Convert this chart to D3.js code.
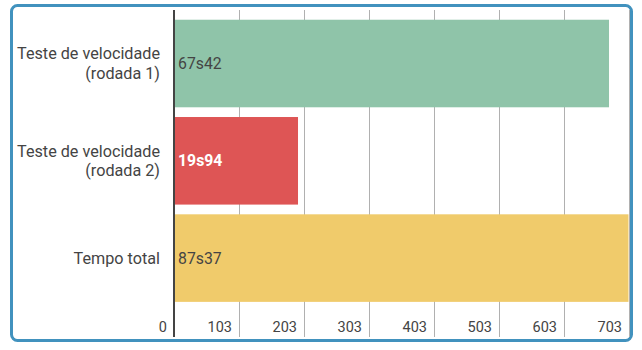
<!DOCTYPE html>
<html>
<head>
<meta charset="utf-8">
<script src="https://cdn.jsdelivr.net/npm/d3@7"></script>
<style>
  body { margin: 0; background: #fff; }
  svg { display: block; font-family: Roboto, "Noto Sans", sans-serif; }
</style>
</head>
<body>
<svg></svg>
<script>
const svgWidth = 642
const svgHeight = 350

// data
const categories = [
  ["Teste de velocidade", "(rodada 1)"],
  ["Teste de velocidade", "(rodada 2)"],
  ["Tempo total"]
]
const barValues = [670, 191, 700]
const barLabels = ["67s42", "19s94", "87s37"]
const barColors = ["#8fc4a9", "#de5555", "#f0cb6b"]
const tickValues = [0, 100, 200, 300, 400, 500, 600, 700]
const tickLabels = ["0", "103", "203", "303", "403", "503", "603", "703"]

const plot = { left: 174, right: 628.5, top: 10, bottom: 337 }

const svg = d3.select("svg")
  .attr("width", svgWidth)
  .attr("height", svgHeight)

// frame
svg.append("rect")
  .attr("x", 11.5)
  .attr("y", 5.5)
  .attr("width", 620)
  .attr("height", 335)
  .attr("rx", 6)
  .attr("fill", "none")
  .attr("stroke", "#4192be")
  .attr("stroke-width", 3)

const xScale = d3.scaleLinear()
  .domain([0, 700])
  .range([plot.left, plot.right])
  .clamp(true)

const yScale = d3.scaleBand()
  .domain(d3.range(categories.length))
  .range([plot.top, 311.6])
  .paddingInner(0.1)
  .paddingOuter(0.1)

// grid lines
svg.append("g")
  .selectAll("line")
  .data(tickValues.slice(1))
  .enter()
  .append("line")
  .attr("x1", d => Math.round(xScale(d)) + 0.5)
  .attr("x2", d => Math.round(xScale(d)) + 0.5)
  .attr("y1", plot.top)
  .attr("y2", plot.bottom)
  .attr("stroke", "#b0b0b0")
  .attr("stroke-width", 1)

// bars
svg.append("g")
  .selectAll("rect")
  .data(barValues)
  .enter()
  .append("rect")
  .attr("x", xScale(0))
  .attr("y", (d, i) => yScale(i))
  .attr("width", d => xScale(d) - xScale(0))
  .attr("height", yScale.bandwidth())
  .attr("fill", (d, i) => barColors[i])

// value labels inside the bars
svg.append("g")
  .selectAll("text")
  .data(barLabels)
  .enter()
  .append("text")
  .text(d => d)
  .attr("x", xScale(0) + 4)
  .attr("y", (d, i) => yScale(i) + yScale.bandwidth() / 2)
  .attr("dy", "0.35em")
  .attr("font-size", 15.8)
  .attr("font-weight", (d, i) => i === 1 ? "bold" : "normal")
  .attr("fill", (d, i) => i === 1 ? "#fff" : "#444")

// category labels
const catGroup = svg.append("g")
categories.forEach((lines, i) => {
  const cy = yScale(i) + yScale.bandwidth() / 2
  const text = catGroup.append("text")
    .attr("text-anchor", "end")
    .attr("font-size", 16.2)
    .attr("fill", "#444")
  lines.forEach((line, j) => {
    text.append("tspan")
      .attr("x", 160)
      .attr("y", cy + (j - (lines.length - 1) / 2) * 19.5)
      .attr("dy", "0.35em")
      .text(line)
  })
})

// axis tick labels
svg.append("g")
  .selectAll("text")
  .data(tickValues)
  .enter()
  .append("text")
  .text((d, i) => tickLabels[i])
  .attr("x", d => Math.round(xScale(d)) - 7)
  .attr("y", 332)
  .attr("text-anchor", "end")
  .attr("font-size", 14.5)
  .attr("fill", "#444")

// zero axis line
svg.append("line")
  .attr("x1", xScale(0))
  .attr("x2", xScale(0))
  .attr("y1", plot.top)
  .attr("y2", plot.bottom)
  .attr("stroke", "#444")
  .attr("stroke-width", 2)
</script>
</body>
</html>
